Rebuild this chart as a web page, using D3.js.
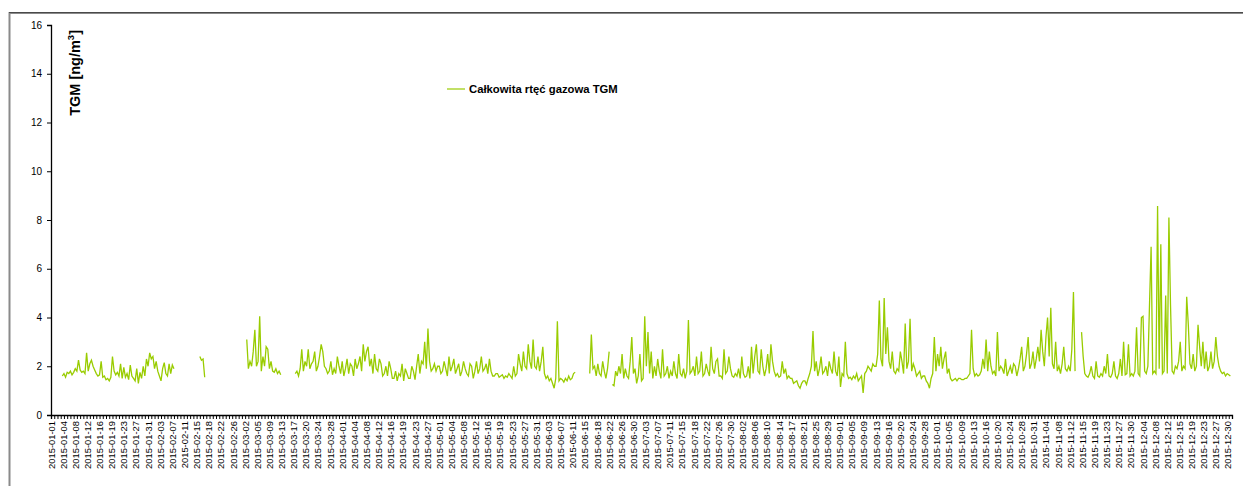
<!DOCTYPE html>
<html>
<head>
<meta charset="utf-8">
<script src="https://cdn.jsdelivr.net/npm/d3@7"></script>
<style>
  body { margin: 0; background: #fff; }
  svg { display: block; font-family: Arial, "Liberation Sans", sans-serif; }
</style>
</head>
<body>
<div id="chart"></div>
<script>
// TGM, two readings per day (00h, 12h), null = no data
const jan = [
  [null,null],[null,null],[null,null],[null,1.6],[1.7,1.55],[1.75,1.7],[1.8,1.65],[1.75,1.9],[1.8,2.25],[1.85,1.75],
  [1.8,1.7],[2.55,1.8],[2.1,2.25],[2.0,1.85],[1.7,1.6],[1.65,2.2],[1.55,1.6],[1.45,1.5],[1.4,1.55],[2.4,1.8],
  [1.65,1.75],[1.6,2.1],[1.5,1.95],[1.55,1.7],[1.45,2.05],[1.6,1.5],[1.4,1.9],[1.3,1.75],[1.5,2.0],[1.6,2.3],
  [2.0,2.55]
];
const feb = [
  [2.3,2.4],[1.9,2.2],[1.8,1.6],[1.4,1.9],[2.15,1.7],[1.6,2.1],[1.7,2.05],[1.9,null],[null,null],[null,null],
  [null,null],[null,null],[null,null],[null,null],[null,null],[2.4,2.25],[2.3,1.55],[null,null],[null,null],[null,null],
  [null,null],[null,null],[null,null],[null,null],[null,null],[null,null],[null,null],[null,null]
];
const mar = [
  [null,null],[null,3.1],[1.9,2.2],[2.0,2.6],[3.5,2.0],[2.2,4.05],[1.8,2.4],[2.0,2.8],[2.7,1.9],[2.2,1.8],
  [1.75,1.9],[1.7,1.8],[1.65,null],[null,null],[null,null],[null,null],[null,1.7],[1.8,1.6],[1.9,2.7],[1.8,2.2],
  [2.0,2.7],[1.9,2.1],[2.2,2.6],[1.8,2.0],[2.4,2.9],[2.6,2.0],[1.9,1.7],[1.8,2.2],[1.65,1.9],[1.7,2.4],
  [2.0,1.7]
];
const apr = [
  [2.2,1.6],[1.9,2.3],[1.7,2.1],[2.0,1.6],[2.3,1.9],[2.1,2.4],[1.8,2.9],[2.2,2.6],[2.8,2.0],[2.3,1.7],
  [2.5,1.9],[1.8,2.3],[2.1,1.6],[1.7,2.0],[1.6,2.2],[1.9,1.5],[1.5,1.8],[1.4,1.7],[1.6,2.1],[1.4,1.9],
  [1.7,1.5],[1.5,2.0],[1.8,1.45],[2.0,2.5],[1.7,2.2],[2.1,3.0],[1.9,3.55],[2.2,1.8],[1.9,2.1],[1.8,2.0]
];
const may = [
  [2.0,1.7],[1.8,2.2],[1.9,1.6],[2.4,1.8],[2.0,2.3],[1.7,1.9],[2.1,1.6],[1.8,2.2],[1.9,1.7],[1.6,2.1],
  [2.0,1.5],[1.8,2.2],[1.7,1.9],[2.4,1.8],[1.9,2.1],[1.7,2.3],[1.8,1.6],[1.6,1.7],[1.7,1.55],[1.6,1.65],
  [1.5,1.6],[1.55,1.7],[1.6,1.5],[2.0,1.6],[1.7,2.5],[2.1,1.8],[2.6,2.0],[1.9,2.9],[2.2,1.9],[3.1,2.0],
  [1.9,2.4]
];
const jun = [
  [1.8,2.2],[2.8,1.7],[1.5,1.6],[1.4,1.5],[1.3,1.1],[1.5,3.85],[1.4,1.5],[1.45,1.35],[1.5,1.4],[1.6,1.45],
  [1.5,1.7],[1.75,null],[null,null],[null,null],[null,null],[null,1.7],[3.3,1.9],[2.0,1.6],[2.1,1.7],[1.6,2.2],
  [1.8,1.5],[1.9,2.6],[null,1.25],[1.2,1.8],[1.6,2.0],[1.7,2.5],[1.5,1.9],[1.6,1.5],[2.2,3.2],[1.7,1.9]
];
const jul = [
  [1.3,1.6],[2.5,1.4],[1.5,4.05],[2.0,3.4],[1.7,2.6],[1.5,2.0],[1.6,2.3],[1.8,1.5],[2.7,1.6],[1.7,2.0],
  [1.5,1.8],[1.6,2.2],[1.7,1.5],[2.5,1.7],[1.6,1.9],[1.5,1.8],[3.9,1.7],[1.8,2.0],[1.6,2.4],[1.7,1.8],
  [2.6,1.6],[1.7,2.1],[1.8,1.6],[2.8,1.9],[1.7,2.2],[2.3,1.6],[1.6,1.5],[2.7,1.7],[1.8,2.4],[1.9,1.6],
  [1.55,1.7]
];
const aug = [
  [1.6,1.9],[1.5,2.4],[1.7,1.55],[1.6,2.0],[1.5,2.8],[1.7,2.4],[2.9,1.8],[1.7,2.7],[2.0,1.6],[1.9,2.5],
  [1.7,2.9],[2.2,1.8],[1.6,1.7],[1.55,1.6],[2.2,1.7],[1.9,1.5],[1.6,1.5],[1.5,1.3],[1.35,1.4],[1.2,1.1],
  [1.3,1.4],[1.4,1.25],[1.5,1.7],[2.0,3.45],[1.8,2.2],[1.6,1.9],[2.4,1.7],[1.8,2.0],[1.6,2.2],[1.9,1.7],
  [2.6,1.8]
];
const sep = [
  [1.6,2.4],[1.15,1.7],[1.6,3.0],[1.7,1.5],[1.55,1.45],[1.6,1.5],[1.7,1.4],[1.5,1.6],[0.9,1.7],[1.8,2.0],
  [1.9,1.8],[2.1,2.0],[2.0,2.5],[4.7,2.3],[2.0,4.8],[2.5,3.6],[2.2,1.9],[2.6,1.8],[1.7,1.9],[1.8,2.6],
  [2.2,1.7],[3.75,1.9],[2.2,3.95],[1.8,2.1],[1.9,1.6],[1.7,1.8],[1.5,1.6],[1.6,1.4],[1.3,1.1],[1.5,1.7]
];
const oct = [
  [3.2,1.8],[2.5,2.0],[2.8,1.9],[2.3,2.6],[1.7,1.9],[1.5,1.4],[1.45,1.5],[1.4,1.5],[1.5,1.45],[1.45,1.5],
  [1.5,1.6],[1.7,3.5],[1.9,1.6],[1.7,1.6],[1.65,1.8],[2.3,1.9],[3.1,1.8],[2.6,2.0],[1.7,1.8],[1.6,3.4],
  [1.8,2.0],[1.9,1.7],[2.3,1.6],[1.8,2.0],[1.7,2.1],[2.0,1.6],[1.9,2.3],[2.8,1.8],[2.0,2.5],[3.2,1.9],
  [2.1,2.6]
];
const nov = [
  [1.9,2.3],[2.8,2.2],[3.5,2.6],[2.0,3.2],[4.0,2.4],[4.4,2.1],[1.9,3.0],[1.8,2.0],[1.7,2.1],[2.8,1.9],
  [1.8,2.0],[1.8,2.7],[5.05,1.8],[null,null],[null,3.4],[2.4,1.7],[1.6,1.55],[1.7,2.0],[1.6,1.5],[2.2,1.6],
  [1.55,1.7],[1.6,2.0],[1.7,2.5],[1.6,1.55],[1.7,2.2],[1.6,1.5],[1.7,2.3],[1.6,3.0],[1.65,1.7],[2.9,1.6]
];
const dec = [
  [1.7,1.6],[1.8,3.6],[1.7,1.6],[4.0,4.05],[1.8,1.7],[2.0,4.5],[6.9,1.7],[1.8,1.7],[8.57,1.9],[7.0,1.7],
  [1.8,4.9],[1.7,8.1],[4.5,1.8],[1.7,2.0],[1.9,2.2],[3.0,1.8],[2.0,1.9],[4.85,3.7],[2.1,1.9],[2.5,1.8],
  [2.0,3.7],[2.8,2.0],[3.0,1.9],[2.6,1.8],[2.0,2.6],[1.9,2.2],[3.2,2.4],[2.0,1.8],[1.7,1.75],[1.6,1.7],
  [1.65,1.6]
];

const yTicks = [0, 2, 4, 6, 8, 10, 12, 14, 16];
const seriesName = "Całkowita rtęć gazowa TGM";

const width = 1243,
  height = 486,
  margin = { top: 25, right: 11, bottom: 71, left: 51 };

const t0 = Date.UTC(2015, 0, 1);
const hour = 3600 * 1000;

const data = [jan, feb, mar, apr, may, jun, jul, aug, sep, oct, nov, dec]
  .flat()
  .flatMap((pair, day) =>
    pair.map((v, k) => ({ date: new Date(t0 + (day * 24 + k * 12) * hour), value: v }))
  );

const svg = d3
  .select("#chart")
  .append("svg")
  .attr("width", width)
  .attr("height", height);

// outer chart frame
svg
  .append("rect")
  .attr("x", 9.5)
  .attr("y", 13)
  .attr("width", width)
  .attr("height", height)
  .attr("fill", "none")
  .attr("stroke", "#8a8a8a")
  .attr("stroke-width", 2);
svg
  .append("line")
  .attr("x1", 9)
  .attr("x2", width)
  .attr("y1", 12.5)
  .attr("y2", 12.5)
  .attr("stroke", "#4a4a4a");

const x = d3
  .scaleUtc()
  .domain([new Date(t0), new Date(Date.UTC(2016, 0, 1))])
  .range([margin.left, width - margin.right]);

const y = d3
  .scaleLinear()
  .domain([0, 16])
  .range([height - margin.bottom, margin.top]);

const y0 = y(0);

// y axis
const yAxis = svg
  .append("g")
  .attr("transform", `translate(${margin.left},0)`)
  .call(d3.axisLeft(y).tickValues(yTicks).tickSize(4).tickPadding(5));
yAxis.select(".domain").attr("stroke", "#000").attr("stroke-width", 1.3);
yAxis.selectAll("text").attr("font-size", 10).attr("fill", "#000");

// x axis: one tick per day
const dayTicks = d3.range(0, 366).map((d) => new Date(t0 + d * 24 * hour));
const xTicks = svg
  .append("g")
  .attr("transform", `translate(0,${y0})`)
  .call(d3.axisBottom(x).tickValues(dayTicks).tickSize(4).tickFormat(""));
xTicks.select(".domain").attr("stroke", "#000").attr("stroke-width", 1.3);
xTicks.selectAll(".tick line").attr("stroke", "#000");

// date labels every 90 hours, like the spreadsheet category axis
const labelTicks = d3.range(0, 98).map((i) => new Date(t0 + i * 90 * hour));
const fmt = d3.utcFormat("%Y-%m-%d");
svg
  .append("g")
  .selectAll("text")
  .data(labelTicks)
  .join("text")
  .attr("transform", (d) => `translate(${x(d) + 3.5},${y0 + 6}) rotate(-90)`)
  .attr("text-anchor", "end")
  .attr("font-size", 9.4)
  .attr("fill", "#000")
  .text((d) => fmt(d));

// the series
const line = d3
  .line()
  .defined((d) => d.value != null)
  .x((d) => x(d.date))
  .y((d) => y(d.value));

svg
  .append("path")
  .datum(data)
  .attr("d", line)
  .attr("fill", "none")
  .attr("stroke", "#99cc00")
  .attr("stroke-width", 1.3);

// y title
const yTitle = svg
  .append("text")
  .attr("transform", `translate(80,30) rotate(-90)`)
  .attr("text-anchor", "end")
  .attr("font-size", 14.5)
  .attr("font-weight", "bold")
  .attr("fill", "#000");
yTitle.append("tspan").text("TGM [ng/m");
yTitle.append("tspan").attr("font-size", 9.5).attr("dy", -6).text("3");
yTitle.append("tspan").attr("dy", 6).text("]");

// legend
const legend = svg.append("g").attr("transform", "translate(447,89)");
legend
  .append("line")
  .attr("x1", 0)
  .attr("x2", 18)
  .attr("stroke", "#99cc00")
  .attr("stroke-width", 1.2);
legend
  .append("text")
  .attr("x", 22)
  .attr("y", 4)
  .attr("font-size", 11.3)
  .attr("font-weight", "bold")
  .attr("fill", "#000")
  .text(seriesName);
</script>
</body>
</html>
